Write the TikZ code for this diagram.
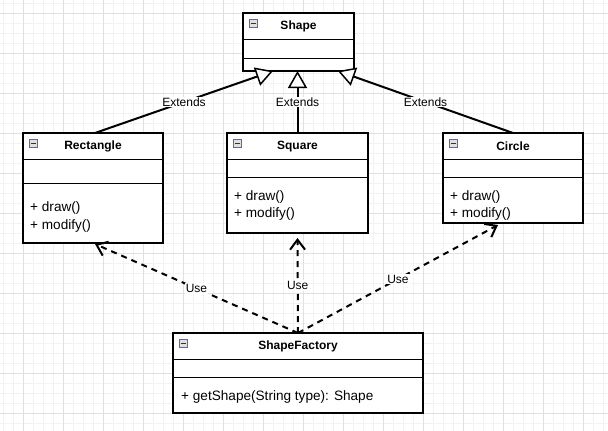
\documentclass[tikz,border=0pt]{standalone}
\usepackage{fontspec}
\setmainfont{Liberation Sans}
\usetikzlibrary{arrows.meta}
\newcommand\umlclass[7]{%
  \node[umlbox, minimum width=#4pt, minimum height=#5pt] (#1) at (#2,#3) {};
  \draw[sepline] ([yshift=-26pt]#1.north west) -- ([yshift=-26pt]#1.north east);
  \draw[sepline] ([yshift=-#7pt]#1.north west) -- ([yshift=-#7pt]#1.north east);
  \node[titletext] (#1-title) at ([yshift=-13.5pt]#1.north) {#6};
  \node[iconbox] (#1-icon) at ([xshift=6pt,yshift=-6pt]#1.north west) {};
}
\begin{document}
\begin{tikzpicture}[x=1pt,y=-1pt,
  umlbox/.style={draw=black, line width=2pt, fill=white, rectangle, anchor=north west, inner sep=0pt, outer sep=0pt},
  sepline/.style={line width=1pt},
  titletext/.style={font=\fontsize{12}{14}\selectfont\bfseries, inner sep=0pt},
  member/.style={font=\fontsize{13.6}{16}\selectfont, anchor=west, inner sep=0pt},
  ext/.style={line width=2pt, -{Triangle[open,fill=white,length=17pt,width=19pt,line width=1.5pt]}},
  use/.style={line width=2pt, dash pattern=on 6pt off 5pt, -{Straight Barb[length=10pt,width=15pt,line width=2pt]}},
  lbl/.style={fill=white, inner sep=1pt, font=\fontsize{12}{14}\selectfont},
  iconbox/.style={draw=gray!80!blue, fill=gray!25, line width=0.6pt, minimum size=8pt, inner sep=0pt, anchor=north west,
    path picture={\draw[line width=1pt,black!80] ([xshift=1.5pt]path picture bounding box.west) -- ([xshift=-1.5pt]path picture bounding box.east);}},
  minorgrid/.style={draw=black!5, line width=0.8pt},
  majorgrid/.style={draw=black!12, line width=0.8pt}
]
\useasboundingbox (0,0) rectangle (608,431);
\fill[white] (0,0) rectangle (608,431);
\foreach \x in {3,13,...,603} \draw[minorgrid] (\x,0) -- (\x,431);
\foreach \y in {3,13,...,423} \draw[minorgrid] (0,\y) -- (608,\y);
\foreach \x in {23,63,...,583} \draw[majorgrid] (\x,0) -- (\x,431);
\foreach \y in {13,53,...,413} \draw[majorgrid] (0,\y) -- (608,\y);

\umlclass{shape}{243}{13}{111}{58}{Shape}{45}
\umlclass{rect}{23}{133}{140}{110}{Rectangle}{50}
\node[member] (rect-m1) at (30,208) {+ draw()};
\node[member] (rect-m2) at (30,226) {+ modify()};
\umlclass{square}{227}{133}{141}{100}{Square}{44}
\node[member] (square-m1) at (234,197) {+ draw()};
\node[member] (square-m2) at (234,214) {+ modify()};
\umlclass{circle}{443}{133}{140}{90}{Circle}{44}
\node[member] (circle-m1) at (450,197) {+ draw()};
\node[member] (circle-m2) at (450,214) {+ modify()};
\umlclass{factory}{173}{333}{250}{80}{ShapeFactory}{44}
\node[member] (factory-m1) at (181,397) {+ getShape(String type): Shape};

\draw[ext] ([xshift=2pt]rect.north) -- node[lbl, pos=0.5] {Extends} ([xshift=30pt]shape.south west);
\draw[ext] (square.north) -- node[lbl, pos=0.5] {Extends} (square.north |- shape.south);
\draw[ext] (circle.north) -- node[lbl, pos=0.5] {Extends} ([xshift=-16pt]shape.south east);

\draw[use] (factory.north) -- node[lbl, pos=0.5] {Use} ([xshift=2pt,yshift=-1pt]rect.south);
\draw[use] (factory.north) -- node[lbl, pos=0.5] {Use} ([yshift=-5pt]square.south);
\draw[use] (factory.north) -- node[lbl, pos=0.5] {Use} ([xshift=-15pt,yshift=-2pt]circle.south);
\end{tikzpicture}
\end{document}
